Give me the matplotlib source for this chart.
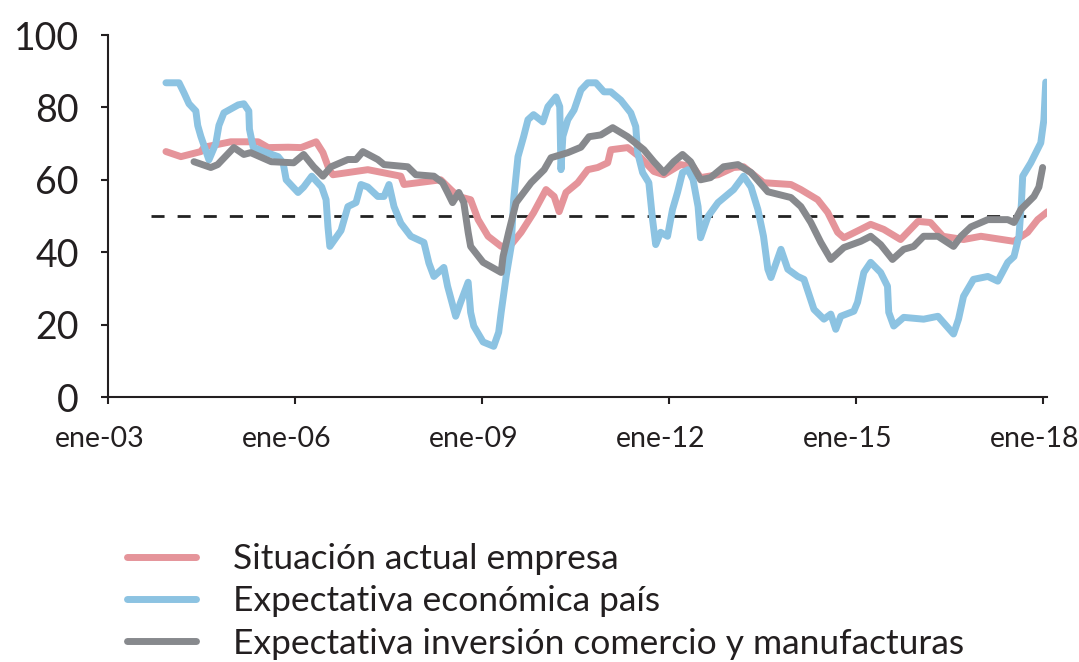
import matplotlib
matplotlib.use("Agg")
import matplotlib.pyplot as plt
from matplotlib.transforms import ScaledTranslation

# ---- data (decimal years, index values) ----
t_empresa = [2003.93, 2004.17, 2004.49, 2004.54, 2004.97, 2005.41, 2005.57, 2005.89, 2006.10,
             2006.34, 2006.45, 2006.55, 2006.61, 2007.17, 2007.70, 2007.75, 2008.34, 2008.50,
             2008.62, 2008.82, 2008.94, 2009.10, 2009.31, 2009.47, 2009.63, 2009.83, 2010.03,
             2010.16, 2010.24, 2010.35, 2010.54, 2010.70, 2010.86, 2011.02, 2011.07, 2011.34,
             2011.55, 2011.76, 2011.92, 2012.19, 2012.39, 2012.51, 2012.79, 2013.04, 2013.20,
             2013.52, 2013.96, 2014.12, 2014.39, 2014.55, 2014.71, 2014.81, 2015.08, 2015.24,
             2015.45, 2015.72, 2016.00, 2016.20, 2016.40, 2016.73, 2017.01, 2017.54, 2017.76,
             2017.92, 2018.08]
v_empresa = [67.8, 66.4, 67.8, 69.0, 70.5, 70.5, 68.9, 69.0, 68.9,
             70.5, 67.5, 62.8, 61.4, 62.8, 61.0, 58.7, 60.0, 57.3,
             55.4, 54.5, 49.0, 44.4, 41.6, 42.1, 45.5, 50.9, 57.3,
             55.4, 51.2, 56.5, 59.2, 62.8, 63.4, 64.7, 68.3, 68.9,
             66.1, 62.3, 61.4, 64.2, 63.6, 60.6, 61.4, 63.4, 63.6,
             59.2, 58.7, 57.3, 54.5, 51.0, 45.5, 44.0, 46.3, 47.7,
             46.3, 43.5, 48.5, 48.2, 44.4, 43.5, 44.4, 43.0, 45.5,
             49.0, 51.2]

t_pais = [2003.93, 2004.14, 2004.22, 2004.30, 2004.41, 2004.44, 2004.49, 2004.57, 2004.62,
          2004.73, 2004.78, 2004.86, 2005.09, 2005.18, 2005.26, 2005.27, 2005.33, 2005.50,
          2005.73, 2005.81, 2005.86, 2006.05, 2006.14, 2006.27, 2006.43, 2006.50, 2006.53,
          2006.56, 2006.74, 2006.85, 2006.98, 2007.06, 2007.17, 2007.33, 2007.43, 2007.51,
          2007.59, 2007.70, 2007.86, 2008.07, 2008.15, 2008.23, 2008.39, 2008.45, 2008.58,
          2008.66, 2008.78, 2008.82, 2008.87, 2009.02, 2009.19, 2009.27, 2009.31, 2009.39,
          2009.47, 2009.51, 2009.58, 2009.67, 2009.74, 2009.83, 2009.98, 2010.06, 2010.19,
          2010.25, 2010.27, 2010.30, 2010.38, 2010.48, 2010.59, 2010.70, 2010.83, 2010.96,
          2011.07, 2011.23, 2011.39, 2011.47, 2011.50, 2011.58, 2011.68, 2011.74, 2011.79,
          2011.87, 2011.98, 2012.06, 2012.14, 2012.22, 2012.31, 2012.39, 2012.47, 2012.51,
          2012.63, 2012.79, 2013.04, 2013.20, 2013.32, 2013.43, 2013.52, 2013.59, 2013.64,
          2013.80, 2013.91, 2014.07, 2014.17, 2014.33, 2014.49, 2014.60, 2014.68, 2014.76,
          2014.97, 2015.03, 2015.13, 2015.24, 2015.40, 2015.51, 2015.53, 2015.61, 2015.77,
          2016.09, 2016.32, 2016.57, 2016.65, 2016.73, 2016.89, 2017.12, 2017.28, 2017.44,
          2017.54, 2017.62, 2017.66, 2017.68, 2017.81, 2017.97, 2018.02, 2018.05]
v_pais = [86.8, 86.8, 84.0, 81.0, 79.0, 75.0, 72.0, 68.0, 65.5,
          70.0, 75.0, 78.5, 80.7, 81.0, 79.0, 74.0, 69.0, 67.8,
          66.4, 64.7, 60.0, 56.5, 58.0, 61.0, 58.0, 54.5, 47.0,
          41.6, 46.0, 52.6, 53.7, 58.7, 58.0, 55.4, 55.4, 58.7,
          52.6, 48.0, 44.4, 42.7, 37.0, 33.3, 35.8, 30.6, 22.3,
          26.2, 31.7, 23.4, 19.6, 15.2, 14.0, 17.9, 23.4, 33.3,
          41.6, 54.5, 66.4, 71.9, 76.6, 78.0, 76.0, 80.2, 82.9,
          80.2, 62.8, 72.0, 76.6, 79.3, 84.8, 86.8, 86.8, 84.3,
          84.3, 82.0, 78.5, 74.7, 67.5, 62.0, 59.2, 49.0, 42.1,
          45.5, 44.4, 51.8, 56.5, 62.0, 62.8, 60.0, 52.6, 44.0,
          49.9, 53.7, 57.3, 61.0, 58.0, 51.8, 44.4, 35.3, 33.0,
          40.8, 35.3, 33.3, 32.5, 24.2, 21.5, 22.9, 18.7, 22.3,
          23.7, 26.2, 34.4, 37.2, 34.4, 30.6, 23.4, 19.6, 22.0,
          21.5, 22.3, 17.4, 21.5, 27.8, 32.5, 33.3, 32.0, 37.2,
          38.8, 44.4, 53.7, 61.0, 64.7, 70.2, 76.6, 87.0]

t_inversion = [2004.38, 2004.65, 2004.76, 2005.02, 2005.18, 2005.29, 2005.62, 2005.98, 2006.14,
               2006.30, 2006.45, 2006.58, 2006.85, 2006.98, 2007.09, 2007.33, 2007.43, 2007.81,
               2007.94, 2008.23, 2008.37, 2008.45, 2008.53, 2008.63, 2008.71, 2008.78, 2008.82,
               2009.02, 2009.31, 2009.34, 2009.43, 2009.55, 2009.79, 2010.00, 2010.11, 2010.38,
               2010.59, 2010.72, 2010.91, 2011.10, 2011.34, 2011.60, 2011.76, 2011.92, 2012.08,
               2012.22, 2012.35, 2012.51, 2012.67, 2012.88, 2013.11, 2013.32, 2013.59, 2013.96,
               2014.12, 2014.28, 2014.44, 2014.60, 2014.81, 2015.08, 2015.24, 2015.40, 2015.59,
               2015.77, 2015.93, 2016.09, 2016.32, 2016.57, 2016.69, 2016.85, 2017.12, 2017.44,
               2017.54, 2017.65, 2017.86, 2017.94, 2018.00]
v_inversion = [65.0, 63.4, 64.2, 68.9, 67.0, 67.5, 65.0, 64.7, 67.0,
               63.6, 61.0, 63.6, 65.6, 65.6, 67.8, 65.6, 64.2, 63.6,
               61.4, 61.0, 59.2, 56.5, 53.7, 56.5, 53.7, 45.5, 41.6,
               37.2, 34.4, 38.8, 45.5, 53.7, 59.2, 62.8, 66.1, 67.5,
               69.0, 71.9, 72.4, 74.4, 71.9, 68.3, 65.0, 62.0, 65.0,
               67.0, 65.0, 60.0, 60.6, 63.6, 64.2, 62.0, 56.7, 55.1,
               52.6, 48.2, 42.7, 38.0, 41.3, 43.0, 44.4, 42.1, 38.0,
               40.8, 41.6, 44.4, 44.4, 41.6, 44.4, 47.0, 49.0, 49.0,
               48.2, 51.8, 55.4, 58.0, 63.4]

ref_level = 50
ref_span = [2003.69, 2017.97]

labels = ["Situación actual empresa",
          "Expectativa económica país",
          "Expectativa inversión comercio y manufacturas"]

xticks = [2003, 2006, 2009, 2012, 2015, 2018]
xtick_labels = ["ene-03", "ene-06", "ene-09", "ene-12", "ene-15", "ene-18"]
yticks = [0, 20, 40, 60, 80, 100]

# ---- styling ----
plt.rcParams["font.family"] = ["Lato", "DejaVu Sans"]
c_red = "#E5949A"
c_blue = "#8CC3E2"
c_gray = "#87898D"
txt = "#231F20"
lw = 5.0

fig = plt.figure(figsize=(10.79, 6.62), dpi=100)
ax = fig.add_axes([108 / 1079, (662 - 397) / 662, (1047 - 108) / 1079, (397 - 35) / 662])

ax.plot(ref_span, [ref_level, ref_level], color="#222222", lw=2.0,
        dashes=(4.7, 4.7), zorder=1)
l1, = ax.plot(t_empresa, v_empresa, color=c_red, lw=lw, solid_capstyle="round",
              solid_joinstyle="round", zorder=2)
l2, = ax.plot(t_pais, v_pais, color=c_blue, lw=lw, solid_capstyle="round",
              solid_joinstyle="round", zorder=3)
l3, = ax.plot(t_inversion, v_inversion, color=c_gray, lw=lw, solid_capstyle="round",
              solid_joinstyle="round", zorder=4)

ax.set_xlim(2003, 2018.07)
ax.set_ylim(0, 100)
ax.set_xticks(xticks)
ax.set_xticklabels(xtick_labels, fontsize=20.5, color=txt)
ax.set_yticks(yticks)
ax.set_yticklabels([str(v) for v in yticks], fontsize=27, color=txt)
ax.tick_params(axis="both", direction="out", length=5, width=1.5, color=txt)
ax.tick_params(axis="x", pad=16)
ax.tick_params(axis="y", pad=16)
shift = ScaledTranslation(-8 / 100, 0, fig.dpi_scale_trans)
for lab in ax.get_xticklabels():
    lab.set_transform(lab.get_transform() + shift)
for s in ["top", "right"]:
    ax.spines[s].set_visible(False)
for s in ["left", "bottom"]:
    ax.spines[s].set_linewidth(1.5)
    ax.spines[s].set_color(txt)

leg = fig.legend([l1, l2, l3], labels, loc="upper left",
                 bbox_to_anchor=(127 / 1079, 1 - 543 / 662), frameon=False,
                 fontsize=25.5, handlelength=1.95, handletextpad=1.05, labelspacing=0.29,
                 borderaxespad=0, borderpad=0)
for t in leg.get_texts():
    t.set_color(txt)

fig.savefig("out.png", dpi=100)
